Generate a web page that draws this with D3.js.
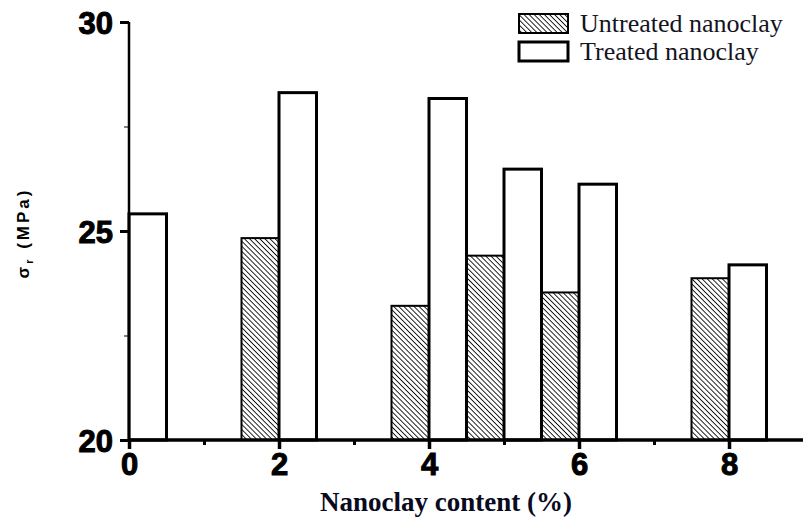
<!DOCTYPE html>
<html>
<head>
<meta charset="utf-8">
<script src="https://cdn.jsdelivr.net/npm/d3@7"></script>
<style>
    body { margin: 0; background: #fff; }
    svg { display: block; }
    .tick-label { font-family: 'Liberation Sans', Arial, sans-serif; font-weight: bold; font-size: 31px; fill: #000; stroke: #000; stroke-width: 1px; }
    .axis-title { font-family: 'Liberation Serif', 'Times New Roman', serif; font-weight: bold; font-size: 27px; fill: #0a0a1e; }
    .y-title { font-family: 'Liberation Sans', Arial, sans-serif; font-weight: bold; font-size: 17px; fill: #000; letter-spacing: 3px; }
    .legend-text { font-family: 'Liberation Serif', 'Times New Roman', serif; font-size: 26px; fill: #14141e; }
</style>
</head>
<body>
<div id="chart"></div>
<script>
//chart data
var contents = [0, 2, 4, 5, 6, 8];
var untreated = [null, 24.83, 23.21, 24.41, 23.53, 23.87];
var treated = [25.41, 28.31, 28.17, 26.48, 26.12, 24.19];
var yMajorTicks = [20, 25, 30];
var yMinorTicks = [22.5, 27.5];
var xMajorTicks = [0, 2, 4, 6, 8];
var xMinorTicks = [1, 3, 5, 7];
var seriesNames = ['Untreated nanoclay', 'Treated nanoclay'];

(function () {
    var width = 803,
        height = 524,
        plot = { left: 129, top: 22, right: 804, bottom: 440 },
        barWidth = 0.5;

    //create svg
    var svg = d3.select('#chart').append('svg')
        .attr('width', width)
        .attr('height', height);

    //hatch pattern for untreated bars (lines running top-left to bottom-right)
    var pattern = svg.append('defs').append('pattern')
        .attr('id', 'hatch')
        .attr('patternUnits', 'userSpaceOnUse')
        .attr('width', 3.6)
        .attr('height', 3.6)
        .attr('patternTransform', 'rotate(-45)');
    pattern.append('rect').attr('width', 3.6).attr('height', 3.6).attr('fill', '#fff');
    pattern.append('line')
        .attr('x1', 0).attr('y1', 0).attr('x2', 0).attr('y2', 3.6)
        .attr('stroke', '#000').attr('stroke-width', 1.7);

    //scales
    var xScale = d3.scaleLinear().domain([0, 9]).range([plot.left, plot.right]);
    var yScale = d3.scaleLinear().domain([20, 30]).range([plot.bottom, plot.top]);

    //build rows from the arrays
    var rows = contents.map(function (c, i) {
        return { content: c, untreated: untreated[i], treated: treated[i] };
    });

    var barsG = svg.append('g');

    //untreated bars (left of the tick)
    barsG.selectAll('.bar-untreated')
        .data(rows.filter(function (d) { return d.untreated !== null; }))
        .enter().append('rect')
        .attr('class', 'bar-untreated')
        .attr('x', function (d) { return xScale(d.content - barWidth); })
        .attr('y', function (d) { return yScale(d.untreated); })
        .attr('width', function (d) { return xScale(d.content) - xScale(d.content - barWidth); })
        .attr('height', function (d) { return yScale(20) - yScale(d.untreated); })
        .attr('fill', 'url(#hatch)')
        .attr('stroke', '#000')
        .attr('stroke-width', 2);

    //treated bars (right of the tick)
    barsG.selectAll('.bar-treated')
        .data(rows)
        .enter().append('rect')
        .attr('class', 'bar-treated')
        .attr('x', function (d) { return xScale(d.content); })
        .attr('y', function (d) { return yScale(d.treated); })
        .attr('width', function (d) { return xScale(d.content + barWidth) - xScale(d.content); })
        .attr('height', function (d) { return yScale(20) - yScale(d.treated); })
        .attr('fill', '#fff')
        .attr('stroke', '#000')
        .attr('stroke-width', 3);

    //y axis
    var yAxisG = svg.append('g')
        .attr('transform', 'translate(' + plot.left + ',0)')
        .call(d3.axisLeft(yScale).tickValues(yMajorTicks).tickSize(9).tickPadding(8));
    svg.append('g')
        .attr('transform', 'translate(' + plot.left + ',0)')
        .call(d3.axisLeft(yScale).tickValues(yMinorTicks).tickSize(5).tickFormat(''))
        .select('.domain').remove();

    yAxisG.select('.domain').attr('d', 'M0,' + plot.top + 'V' + plot.bottom).attr('stroke-width', 2.5);
    yAxisG.selectAll('.tick line').attr('stroke-width', 3);
    yAxisG.selectAll('.tick text').attr('class', 'tick-label').attr('dy', '0.36em').attr('x', -16);

    //x axis
    var xAxisG = svg.append('g')
        .attr('transform', 'translate(0,' + plot.bottom + ')')
        .call(d3.axisBottom(xScale).tickValues(xMajorTicks).tickSize(9).tickPadding(4));
    var xMinorG = svg.append('g')
        .attr('transform', 'translate(0,' + plot.bottom + ')')
        .call(d3.axisBottom(xScale).tickValues(xMinorTicks).tickSize(5).tickFormat(''));
    xMinorG.select('.domain').remove();
    xMinorG.selectAll('.tick line').attr('stroke-width', 3);

    xAxisG.select('.domain').attr('d', 'M' + plot.left + ',0H' + plot.right).attr('stroke-width', 3.5);
    xAxisG.selectAll('.tick line').attr('stroke-width', 3.5);
    xAxisG.selectAll('.tick text').attr('class', 'tick-label').attr('dy', '0.71em').attr('y', 13);

    //axis titles
    svg.append('text')
        .attr('class', 'axis-title')
        .attr('x', 446)
        .attr('y', 511)
        .attr('text-anchor', 'middle')
        .text('Nanoclay content (%)');

    var yTitle = svg.append('text')
        .attr('class', 'y-title')
        .attr('transform', 'translate(29,233) rotate(-90)')
        .attr('text-anchor', 'middle');
    yTitle.append('tspan').text('σ');
    yTitle.append('tspan').attr('font-size', '11px').attr('dy', 4).text('r');
    yTitle.append('tspan').attr('dy', -4).text(' (MPa)');

    //legend
    var legendG = svg.append('g').attr('transform', 'translate(519,0)');
    legendG.append('rect')
        .attr('x', 0).attr('y', 14).attr('width', 49).attr('height', 19)
        .attr('fill', 'url(#hatch)').attr('stroke', '#000').attr('stroke-width', 2);
    legendG.append('rect')
        .attr('x', 0).attr('y', 42).attr('width', 49).attr('height', 19)
        .attr('fill', '#fff').attr('stroke', '#000').attr('stroke-width', 3);
    legendG.selectAll('.legend-text')
        .data(seriesNames)
        .enter().append('text')
        .attr('class', 'legend-text')
        .attr('x', 61)
        .attr('y', function (d, i) { return 32 + i * 28; })
        .text(function (d) { return d; });
})();
</script>
</body>
</html>
